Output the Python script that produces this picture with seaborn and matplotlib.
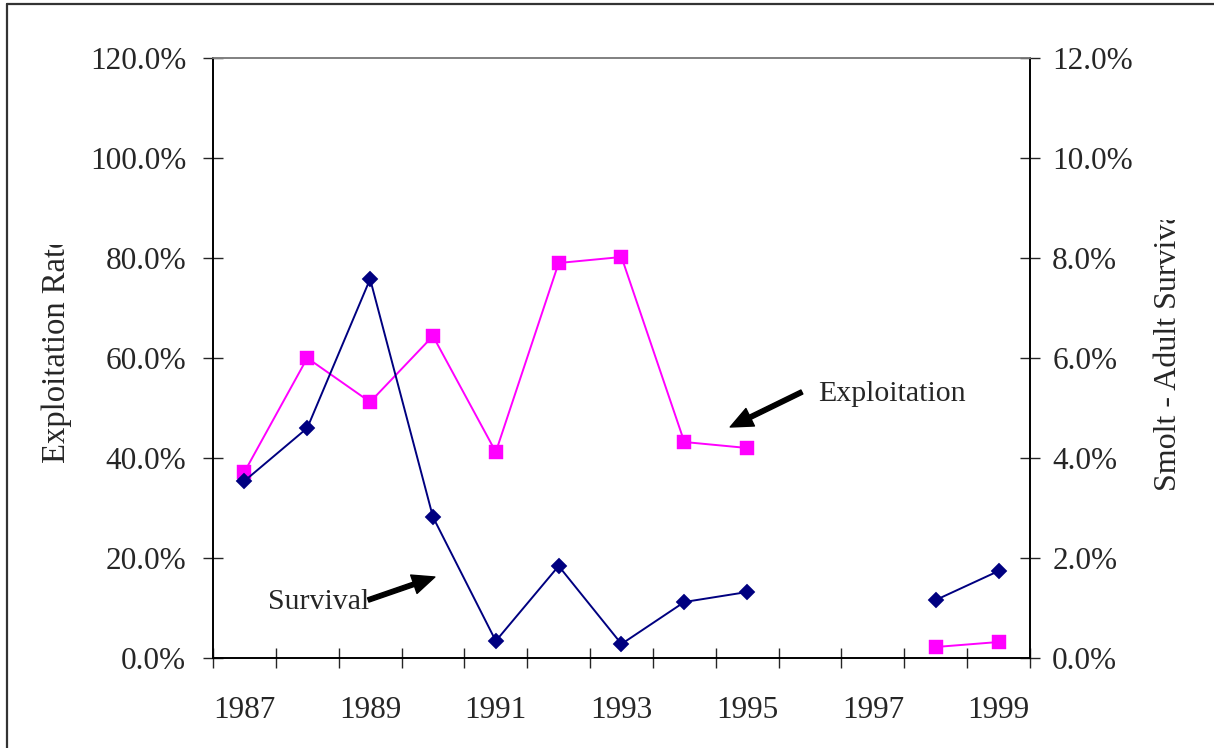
import numpy as np
import pandas as pd
import matplotlib
matplotlib.use("Agg")
import matplotlib.pyplot as plt
from matplotlib.lines import Line2D
from matplotlib.patches import Rectangle
from matplotlib.ticker import FixedLocator, FuncFormatter
import seaborn as sns

# ---- data ----
years = list(range(1987, 2000))
exploitation = [0.372, 0.600, 0.512, 0.644, 0.412, 0.790, 0.802, 0.432, 0.420,
                np.nan, np.nan, 0.022, 0.032]
survival = [0.0354, 0.0460, 0.0758, 0.0282, 0.0034, 0.0184, 0.0028, 0.0112, 0.0132,
            np.nan, np.nan, 0.0116, 0.0174]
year_labels = [1987, 1989, 1991, 1993, 1995, 1997, 1999]
left_ticks = [0.0, 0.2, 0.4, 0.6, 0.8, 1.0, 1.2]
right_ticks = [0.0, 0.02, 0.04, 0.06, 0.08, 0.10, 0.12]

df = pd.DataFrame({"year": years, "exploitation": exploitation, "survival": survival})


def segmented(col):
    d = df[["year", col]].copy()
    d["segment"] = d[col].isna().cumsum()
    return d.dropna()


sns.set_style("white")
plt.rcParams["font.family"] = ["Liberation Serif", "DejaVu Serif"]
FS = 22.5
FS_ANN = 21.5

fig = plt.figure(figsize=(12.14, 7.48), dpi=100)
W, H = 1214, 748
L, R, T, B = 213, 1030, 58, 658
ax = fig.add_axes([L / W, 1 - B / H, (R - L) / W, (B - T) / H])
ax2 = ax.twinx()

MAG = "#FF00FF"
NAVY = "#000080"

sns.lineplot(data=segmented("exploitation"), x="year", y="exploitation", units="segment",
             estimator=None, ax=ax, color=MAG, marker="s", markersize=9.6,
             markeredgecolor=MAG, markeredgewidth=0.3, linewidth=1.4, legend=False)
sns.lineplot(data=segmented("survival"), x="year", y="survival", units="segment",
             estimator=None, ax=ax2, color=NAVY, marker="D", markersize=8.0,
             markeredgecolor=NAVY, markeredgewidth=0.3, linewidth=1.4, legend=False)

for a in (ax, ax2):
    a.set_xlim(1986.5, 1999.5)
    a.set_xlabel("")
    a.set_ylabel("")
    a.set_facecolor("none")
    for s in a.spines.values():
        s.set_linewidth(1.2)
        s.set_color("black")
    a.spines["top"].set_color("#808080")

ax.set_ylim(0, 1.2)
ax2.set_ylim(0, 0.12)

fmt = FuncFormatter(lambda v, p: f"{v * 100:.1f}%")
ax.yaxis.set_major_locator(FixedLocator(left_ticks))
ax.yaxis.set_major_formatter(fmt)
ax2.yaxis.set_major_locator(FixedLocator(right_ticks))
ax2.yaxis.set_major_formatter(fmt)

ax.xaxis.set_major_locator(FixedLocator(year_labels))
ax.xaxis.set_major_formatter(FuncFormatter(lambda v, p: f"{int(round(v))}"))
ax.xaxis.set_minor_locator(FixedLocator([y - 0.5 for y in years] + [years[-1] + 0.5]))
ax.tick_params(axis="x", which="major", length=0, pad=27, labelsize=FS)
ax.tick_params(axis="x", which="minor", length=14.4, width=1.0, direction="inout", bottom=True)
ax.tick_params(axis="y", which="major", length=14.4, width=1.0, direction="inout",
               pad=12, labelsize=FS, left=True)
ax2.tick_params(axis="y", which="major", length=14.4, width=1.0, direction="inout",
                pad=8.8, labelsize=FS, right=True)
ax2.xaxis.set_visible(False)

# annotations
arrow_kw = dict(facecolor="black", edgecolor="black", width=3.2,
                headwidth=14, headlength=16, shrink=0)
ax.annotate("", xy=(1994.73, 0.462), xytext=(1995.87, 0.532), arrowprops=arrow_kw)
ax.text(1996.13, 0.528, "Exploitation", fontsize=FS_ANN, ha="left", va="center")
ax.annotate("", xy=(1990.03, 0.162), xytext=(1988.97, 0.116), arrowprops=arrow_kw)
ax.text(1987.37, 0.112, "Survival", fontsize=FS_ANN, ha="left", va="center")

# axis titles (cut off at the top, as in the original chart)
fig.text(57 / W, 1 - 463 / H, "Exploitation Rate", rotation=90, fontsize=23.5,
         ha="center", va="bottom")
fig.text(1168 / W, 1 - 491 / H, "Smolt - Adult Survival", rotation=90, fontsize=23,
         ha="center", va="bottom")
fig.add_artist(Rectangle((30 / W, 1 - 245 / H), 55 / W, 110 / H, transform=fig.transFigure,
                         facecolor="white", edgecolor="none", zorder=10))
fig.add_artist(Rectangle((1140 / W, 1 - 220 / H), 60 / W, 90 / H, transform=fig.transFigure,
                         facecolor="white", edgecolor="none", zorder=10))

# outer chart frame
fig.add_artist(Line2D([7 / W, 1], [1 - 4 / H, 1 - 4 / H], transform=fig.transFigure,
                      color="#333333", linewidth=1.6))
fig.add_artist(Line2D([7 / W, 7 / W], [0, 1 - 4 / H], transform=fig.transFigure,
                      color="#333333", linewidth=1.6))

fig.savefig("out.png", dpi=100)
